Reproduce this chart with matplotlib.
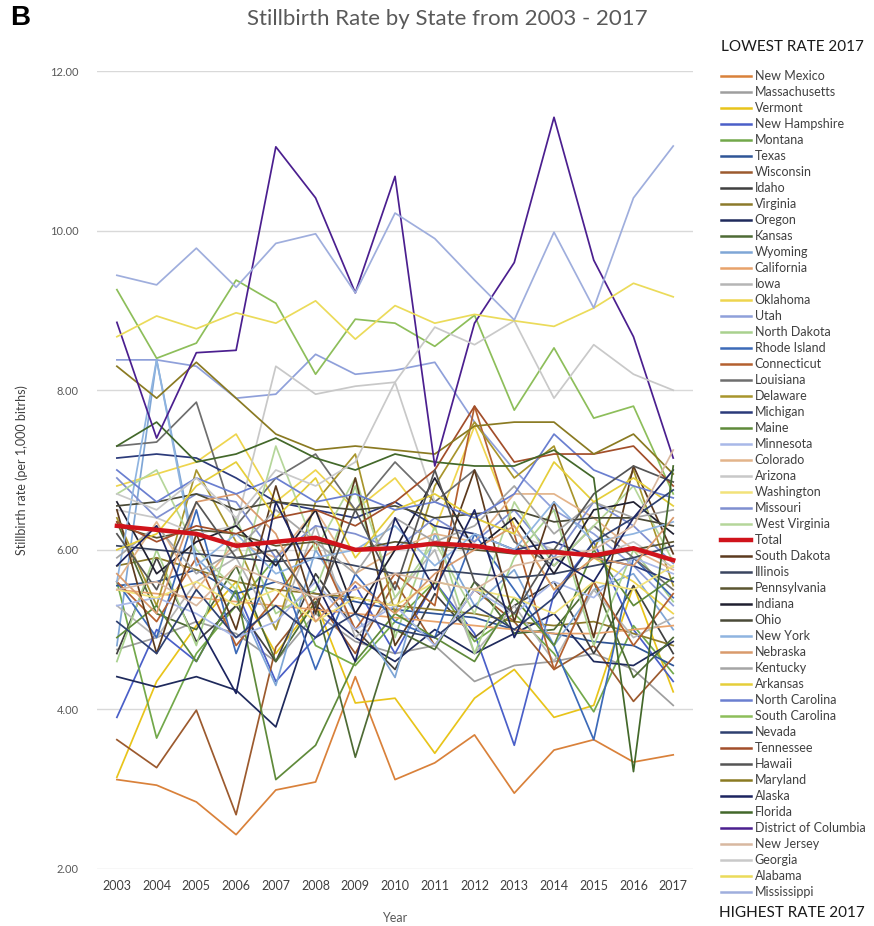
import matplotlib
matplotlib.use("Agg")
from matplotlib import pyplot as plt
from matplotlib.lines import Line2D

plt.rcParams['font.family'] = ['Lato', 'DejaVu Sans']

years = list(range(2003, 2018))

# states, ordered lowest -> highest 2017 rate (same as legend)
states = ["New Mexico", "Massachusetts", "Vermont", "New Hampshire", "Montana", "Texas",
          "Wisconsin", "Idaho", "Virginia", "Oregon", "Kansas", "Wyoming", "California", "Iowa",
          "Oklahoma", "Utah", "North Dakota", "Rhode Island", "Connecticut", "Louisiana",
          "Delaware", "Michigan", "Maine", "Minnesota", "Colorado", "Arizona", "Washington",
          "Missouri", "West Virginia", "Total", "South Dakota", "Illinois", "Pennsylvania",
          "Indiana", "Ohio", "New York", "Nebraska", "Kentucky", "Arkansas", "North Carolina",
          "South Carolina", "Nevada", "Tennessee", "Hawaii", "Maryland", "Alaska", "Florida",
          "District of Columbia", "New Jersey", "Georgia", "Alabama", "Mississippi"]

rates = {
    "New Mexico": [3.12, 3.05, 2.84, 2.43, 2.99, 3.09, 4.41, 3.12, 3.33, 3.68, 2.95, 3.49, 3.62, 3.34, 3.43],
    "Massachusetts": [4.75, 4.9, 5.1, 4.95, 4.6, 5.2, 4.85, 4.7, 4.8, 4.35, 4.55, 4.6, 4.7, 4.5, 4.05],
    "Vermont": [3.15, 4.35, 5.05, 5.6, 4.7, 5.35, 4.08, 4.14, 3.45, 4.14, 4.5, 3.9, 4.05, 5.55, 4.22],
    "New Hampshire": [3.9, 5.0, 4.6, 5.5, 4.35, 4.9, 5.55, 4.7, 5.6, 4.95, 3.55, 5.45, 6.1, 5.0, 4.35],
    "Montana": [5.6, 3.64, 4.7, 5.3, 5.9, 4.8, 4.55, 5.1, 5.6, 4.85, 5.2, 4.7, 3.97, 5.05, 4.45],
    "Texas": [5.55, 5.6, 5.75, 5.45, 5.6, 5.45, 5.35, 5.25, 5.2, 5.15, 5.0, 4.95, 4.85, 4.8, 4.55],
    "Wisconsin": [3.62, 3.27, 3.99, 2.68, 4.78, 5.4, 4.7, 5.6, 4.8, 5.5, 5.1, 4.5, 4.8, 4.1, 4.65],
    "Idaho": [4.7, 5.9, 4.85, 5.3, 4.6, 5.7, 5.0, 4.5, 5.45, 4.9, 5.3, 5.6, 4.7, 5.55, 4.7],
    "Virginia": [5.8, 5.9, 5.75, 5.6, 5.5, 5.45, 5.4, 5.3, 5.25, 5.2, 5.1, 5.05, 5.1, 4.95, 4.8],
    "Oregon": [4.41, 4.28, 4.41, 4.24, 3.78, 5.3, 4.9, 4.6, 5.0, 4.7, 4.95, 5.2, 4.6, 4.55, 4.85],
    "Kansas": [6.35, 5.2, 5.0, 5.8, 4.6, 5.35, 3.4, 5.0, 4.75, 5.6, 4.95, 5.0, 5.6, 4.4, 4.9],
    "Wyoming": [4.8, 8.38, 5.9, 5.4, 4.3, 6.0, 5.2, 4.4, 6.2, 5.3, 5.75, 4.8, 5.5, 5.7, 5.0],
    "California": [5.5, 5.45, 5.4, 5.35, 5.3, 5.25, 5.2, 5.15, 5.1, 5.05, 5.0, 4.95, 4.95, 5.0, 5.05],
    "Iowa": [5.3, 4.9, 5.6, 5.9, 5.0, 6.3, 4.9, 5.4, 6.0, 4.7, 5.3, 4.6, 5.5, 4.9, 5.15],
    "Oklahoma": [6.8, 6.95, 7.1, 7.45, 6.6, 7.0, 6.5, 6.9, 6.25, 7.55, 6.3, 5.5, 5.9, 5.6, 5.2],
    "Utah": [8.38, 8.38, 8.3, 7.9, 7.95, 8.45, 8.2, 8.25, 8.35, 7.6, 7.0, 6.5, 6.2, 5.8, 5.3],
    "North Dakota": [4.6, 6.0, 4.8, 6.4, 5.2, 5.5, 6.8, 4.9, 6.3, 4.7, 5.9, 6.5, 4.8, 6.0, 5.35],
    "Rhode Island": [5.6, 4.9, 6.5, 4.7, 5.9, 4.5, 5.7, 5.1, 4.9, 6.2, 5.5, 4.8, 3.62, 5.9, 5.4],
    "Connecticut": [5.6, 5.1, 5.9, 4.8, 5.4, 6.1, 5.0, 5.7, 5.3, 7.8, 6.2, 4.5, 5.6, 4.8, 5.45],
    "Louisiana": [7.3, 7.35, 7.85, 6.3, 6.9, 7.2, 6.5, 7.1, 6.6, 7.0, 6.1, 5.8, 6.3, 5.9, 5.5],
    "Delaware": [6.4, 5.3, 7.0, 6.1, 5.0, 6.6, 7.2, 5.2, 6.8, 7.6, 6.9, 7.3, 6.0, 7.0, 5.55],
    "Michigan": [7.15, 7.2, 7.15, 6.9, 6.6, 6.5, 6.4, 6.6, 6.3, 6.2, 6.0, 6.1, 5.9, 5.8, 5.6],
    "Maine": [4.9, 5.3, 4.6, 5.5, 3.12, 3.55, 4.6, 5.2, 4.9, 4.6, 5.4, 4.8, 6.0, 5.3, 5.65],
    "Minnesota": [5.3, 5.4, 5.2, 4.9, 5.1, 5.6, 5.0, 5.3, 4.8, 5.5, 5.2, 5.6, 5.4, 5.9, 5.7],
    "Colorado": [5.6, 6.35, 5.5, 6.1, 5.9, 6.5, 5.7, 6.0, 6.2, 6.1, 6.7, 6.7, 6.4, 6.0, 5.75],
    "Arizona": [6.5, 6.4, 6.2, 6.3, 8.3, 7.95, 8.05, 8.1, 6.6, 6.4, 6.2, 6.0, 5.9, 6.1, 5.78],
    "Washington": [5.5, 5.4, 5.6, 5.3, 5.5, 5.1, 5.4, 5.3, 5.6, 5.5, 5.4, 5.2, 5.6, 5.5, 5.8],
    "Missouri": [6.9, 6.4, 6.7, 6.6, 5.9, 6.3, 6.2, 6.0, 6.4, 6.1, 6.5, 5.9, 6.6, 6.3, 5.83],
    "West Virginia": [6.7, 7.0, 6.0, 5.5, 7.3, 6.0, 6.9, 5.4, 6.1, 5.2, 6.6, 5.8, 6.3, 6.8, 5.85],
    "Total": [6.3, 6.25, 6.2, 6.05, 6.1, 6.15, 6.0, 6.02, 6.08, 6.05, 5.97, 5.97, 5.93, 6.02, 5.87],
    "South Dakota": [6.5, 4.7, 6.2, 5.0, 6.8, 5.2, 6.9, 4.8, 5.6, 7.0, 5.1, 6.6, 4.9, 7.05, 5.95],
    "Illinois": [6.05, 6.0, 5.95, 5.9, 5.85, 5.9, 5.8, 5.7, 5.75, 5.7, 5.65, 5.7, 5.8, 5.9, 6.05],
    "Pennsylvania": [6.3, 6.15, 6.25, 6.2, 6.05, 6.1, 6.0, 6.1, 6.05, 6.0, 5.95, 6.0, 5.9, 6.0, 6.1],
    "Indiana": [6.6, 5.7, 6.1, 6.3, 5.8, 6.5, 5.2, 6.0, 6.9, 6.0, 6.4, 5.7, 6.5, 6.6, 6.2],
    "Ohio": [6.55, 6.6, 6.7, 6.5, 6.6, 6.55, 6.5, 6.55, 6.4, 6.45, 6.5, 6.35, 6.4, 6.4, 6.3],
    "New York": [5.6, 8.38, 5.8, 6.2, 5.7, 5.9, 6.0, 6.3, 5.8, 6.2, 6.0, 6.6, 6.1, 6.2, 6.35],
    "Nebraska": [5.7, 5.2, 6.6, 6.7, 6.2, 5.1, 5.6, 5.2, 5.7, 6.0, 6.3, 5.5, 5.9, 5.8, 6.4],
    "Kentucky": [5.9, 6.3, 5.7, 6.0, 6.5, 6.1, 5.7, 6.4, 6.1, 6.3, 6.8, 6.2, 6.6, 6.4, 6.5],
    "Arkansas": [6.0, 6.2, 6.8, 7.1, 6.4, 6.9, 5.9, 6.5, 6.7, 6.4, 6.2, 7.1, 6.6, 6.9, 6.55],
    "North Carolina": [7.0, 6.6, 6.9, 6.7, 6.9, 6.6, 6.7, 6.5, 6.6, 6.4, 6.7, 7.45, 7.0, 6.8, 6.65],
    "South Carolina": [9.26, 8.4, 8.59, 9.38, 9.09, 8.2, 8.89, 8.84, 8.55, 8.94, 7.75, 8.53, 7.65, 7.8, 6.7],
    "Nevada": [5.1, 4.7, 5.5, 4.9, 5.3, 4.9, 5.2, 5.0, 4.9, 5.3, 5.0, 5.4, 6.1, 6.4, 6.75],
    "Tennessee": [6.35, 6.1, 6.3, 6.2, 6.4, 6.5, 6.3, 6.6, 7.0, 7.8, 7.1, 7.2, 7.2, 7.3, 6.8],
    "Hawaii": [6.2, 5.5, 6.6, 5.9, 6.0, 5.3, 6.5, 5.5, 7.0, 5.6, 5.2, 6.0, 6.7, 7.05, 6.85],
    "Maryland": [8.3, 7.9, 8.35, 7.9, 7.45, 7.25, 7.3, 7.25, 7.2, 7.55, 7.6, 7.6, 7.2, 7.45, 6.95],
    "Alaska": [5.8, 6.3, 5.1, 4.2, 6.6, 5.6, 4.6, 6.4, 5.5, 6.5, 4.9, 5.9, 5.6, 6.4, 7.0],
    "Florida": [7.3, 7.6, 7.1, 7.2, 7.4, 7.15, 7.0, 7.2, 7.1, 7.05, 7.05, 7.25, 6.9, 3.22, 7.05],
    "District of Columbia": [8.85, 7.4, 8.47, 8.5, 11.05, 10.41, 9.22, 10.68, 7.05, 8.84, 9.6, 11.42, 9.63, 8.67, 7.15],
    "New Jersey": [5.5, 5.6, 5.3, 5.8, 5.6, 5.4, 5.5, 5.7, 5.6, 5.5, 5.8, 5.9, 6.0, 6.3, 7.25],
    "Georgia": [6.7, 6.5, 6.9, 6.4, 7.0, 6.8, 7.1, 8.1, 8.79, 8.57, 8.87, 7.9, 8.57, 8.2, 8.0],
    "Alabama": [8.67, 8.93, 8.77, 8.97, 8.84, 9.12, 8.64, 9.06, 8.84, 8.95, 8.87, 8.8, 9.03, 9.34, 9.17],
    "Mississippi": [9.44, 9.32, 9.78, 9.29, 9.84, 9.96, 9.22, 10.22, 9.9, 9.38, 8.88, 9.98, 9.03, 10.41, 11.06],
}

colors = ["#D9813A", "#9E9E9E", "#E8C41A", "#4A5FC8", "#72A84A", "#2F5597",
          "#9C5A2E", "#404040", "#8C7A2B", "#1F2A5C", "#4E6B35", "#7FA6D6", "#E8A26A", "#B5B5B5",
          "#EED54F", "#8FA0DA", "#A9D18E", "#3C6AB8", "#B4602F", "#6E6E6E",
          "#A8952C", "#2B3A7A", "#5F8A3A", "#A8B8E8", "#E3B48A", "#C8C8C8", "#F2E27A",
          "#7F8FD0", "#B5D69A", "#D0131B", "#5C3A1E", "#3A4560", "#5B5530",
          "#202030", "#4A4A38", "#8FB4E0", "#D99A6C", "#A5A5A5", "#E5CE3A", "#6A7FD0",
          "#8DBE5A", "#2E4070", "#A24E2A", "#555555", "#8A7A22", "#1C2460", "#43682A",
          "#4B1F8F", "#D8B8A0", "#C9C9C9", "#EBDB5A", "#9FAEDD"]

fig = plt.figure(figsize=(8.74, 9.26), dpi=100)
ax = fig.add_axes([0.111, 0.0616, 0.682, 0.8617])

for name, col in zip(states, colors):
    if name == "Total":
        ax.plot(years, rates[name], color=col, lw=3.2, zorder=5)
    else:
        ax.plot(years, rates[name], color=col, lw=1.25, zorder=3)

ax.set_xlim(2002.5, 2017.5)
ax.set_ylim(2, 12)
ax.set_xticks(years)
ax.set_xticklabels([str(y) for y in years], fontsize=9, color="#404040")
ax.set_yticks([2, 4, 6, 8, 10, 12])
ax.set_yticklabels(["%.2f" % v for v in [2, 4, 6, 8, 10, 12]], fontsize=8, color="#595959")
ax.tick_params(axis="y", length=0, pad=13)
ax.tick_params(axis="x", length=0, pad=8)
ax.grid(axis="y", color="#D9D9D9", lw=1)
ax.set_axisbelow(True)
for s in ax.spines.values():
    s.set_visible(False)

ax.set_ylabel("Stillbirth rate (per 1,000 bitrhs)", fontsize=9, color="#404040", labelpad=16)
ax.set_xlabel("Year", fontsize=9, color="#595959", labelpad=14)

fig.text(447 / 874, 1 - 19 / 926, "Stillbirth Rate by State from 2003 - 2017", ha="center", va="center",
         fontsize=16, color="#595959")
fig.text(10 / 874, 1 - 18 / 926, "B", ha="left", va="center", fontsize=20, fontweight="bold",
         family="Liberation Sans", color="black")

fig.text(792 / 874, 1 - 47 / 926, "LOWEST RATE 2017", ha="center", va="center", fontsize=11, color="#1a1a1a")
fig.text(792 / 874, 1 - 913 / 926, "HIGHEST RATE 2017", ha="center", va="center", fontsize=11, color="#1a1a1a")

leg_handles = [Line2D([0], [0], color=c, lw=(3.2 if n == "Total" else 1.8)) for n, c in zip(states, colors)]
fig.legend(leg_handles, states, loc="upper left", bbox_to_anchor=(721 / 874, 1 - 70 / 926),
           frameon=False, fontsize=9, handlelength=2.4, handletextpad=0.3, labelspacing=0.32,
           borderaxespad=0, borderpad=0, labelcolor="#404040")

fig.savefig("out.png", dpi=100)
